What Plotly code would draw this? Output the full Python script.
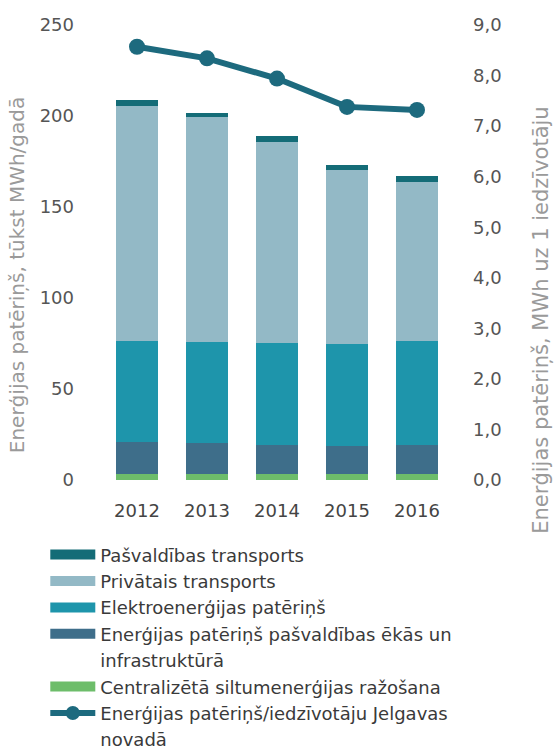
import plotly.graph_objects as go

years = ["2012", "2013", "2014", "2015", "2016"]
centralizeta = [3.5, 3.5, 3.5, 3.5, 3.5]
ekas = [17.5, 17.0, 16.0, 15.0, 16.0]
elektro = [55.4, 55.5, 56.0, 56.0, 57.0]
privatais = [129.0, 123.5, 110.0, 96.0, 87.0]
pasvaldibas = [3.3, 2.0, 3.7, 2.7, 3.3]
per_capita = [8.57, 8.34, 7.94, 7.38, 7.32]

names = {
    "pasv": "Pašvaldības transports",
    "priv": "Privātais transports",
    "elek": "Elektroenerģijas patēriņš",
    "ekas": "Enerģijas patēriņš pašvaldības ēkās un",
    "ekas2": "infrastruktūrā",
    "cent": "Centralizētā siltumenerģijas ražošana",
    "line": "Enerģijas patēriņš/iedzīvotāju Jelgavas",
    "line2": "novadā",
}
colors = {
    "cent": "#6dbd6a",
    "ekas": "#3e6e8a",
    "elek": "#1e95ab",
    "priv": "#93b9c6",
    "pasv": "#146c77",
    "line": "#1d6a7e",
}

FONT = "DejaVu Sans"
fig = go.Figure()

stack = [("cent", centralizeta), ("ekas", ekas), ("elek", elektro),
         ("priv", privatais), ("pasv", pasvaldibas)]
for key, vals in stack:
    fig.add_trace(go.Bar(x=years, y=vals, name=names[key], marker_color=colors[key],
                         marker_line_width=0, showlegend=False))

fig.add_trace(go.Scatter(x=years, y=per_capita, yaxis="y2", mode="lines+markers",
                         line=dict(color=colors["line"], width=6),
                         marker=dict(size=16, color=colors["line"]),
                         name=names["line"] + " " + names["line2"], showlegend=False))

# legend entries (wide swatches), one row per text line
legend_rows = [("pasv", "pasv"), ("priv", "priv"), ("elek", "elek"), ("ekas", "ekas"),
               ("ekas2", None), ("cent", "cent")]
for i, (nkey, ckey) in enumerate(legend_rows):
    col = colors[ckey] if ckey else "rgba(0,0,0,0)"
    fig.add_trace(go.Scatter(x=[None], y=[None], mode="lines", name=names[nkey],
                             line=dict(color=col, width=11),
                             legendgroup=f"g{i}", showlegend=True))
fig.add_trace(go.Scatter(x=[None], y=[None], mode="lines+markers", name=names["line"],
                         line=dict(color=colors["line"], width=6),
                         marker=dict(size=14, color=colors["line"]),
                         legendgroup="g6", showlegend=True))
fig.add_trace(go.Scatter(x=[None], y=[None], mode="lines", name=names["line2"],
                         line=dict(color="rgba(0,0,0,0)", width=6),
                         legendgroup="g7", showlegend=True))

fig.update_layout(
    width=556, height=746,
    margin=dict(l=102, r=104, t=25, b=266, autoexpand=False),
    paper_bgcolor="white", plot_bgcolor="white",
    barmode="stack", bargap=0.41,
    separators=", ",
    font=dict(family=FONT, color="#555555", size=17),
    showlegend=True,
    legend=dict(x=-0.162, y=-0.124, xanchor="left", yanchor="top",
                font=dict(family=FONT, size=18, color="#3a3a3a"),
                traceorder="grouped", itemwidth=45, tracegroupgap=0,
                itemclick=False, itemdoubleclick=False,
                bgcolor="rgba(0,0,0,0)"),
    xaxis=dict(showgrid=False, showline=False, zeroline=False, automargin=False,
               tickfont=dict(size=18, color="#444444"), ticklabelstandoff=18),
    yaxis=dict(range=[0, 250], dtick=50, showgrid=False, showline=False, zeroline=False,
               automargin=False,
               tickfont=dict(size=18, color="#555555"), ticklabelstandoff=27),
    yaxis2=dict(range=[0, 9], dtick=1, tickformat=".1f", overlaying="y", side="right",
                showgrid=False, showline=False, zeroline=False, automargin=False,
                tickfont=dict(size=18, color="#555555"), ticklabelstandoff=20),
    annotations=[
        dict(text="Enerģijas patēriņš, tūkst MWh/gadā", xref="paper", yref="paper",
             x=-0.243, y=0.45, xanchor="center", yanchor="middle",
             textangle=-90, showarrow=False,
             font=dict(family=FONT, size=20, color="#9a9a9a")),
        dict(text="Enerģijas patēriņš, MWh uz 1 iedzīvotāju", xref="paper", yref="paper",
             x=1.254, y=0.352, xanchor="center", yanchor="middle",
             textangle=-90, showarrow=False,
             font=dict(family=FONT, size=21, color="#9a9a9a")),
    ],
)

fig.write_html("out.html", config={"displayModeBar": False},
               post_script="document.body.style.margin='0';")
